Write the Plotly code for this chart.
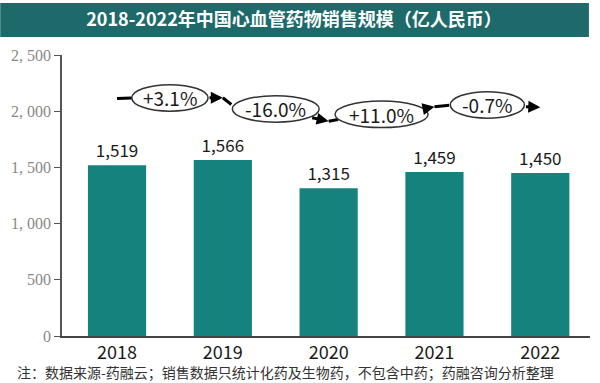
import plotly.graph_objects as go

# ---- data ----
years = ["2018", "2019", "2020", "2021", "2022"]
sales = [1519, 1566, 1315, 1459, 1450]
value_labels = ["1,519", "1,566", "1,315", "1,459", "1,450"]
growth_labels = ["+3.1%", "-16.0%", "+11.0%", "-0.7%"]
y_tickvals = [0, 500, 1000, 1500, 2000, 2500]
y_ticktext = ["0", "500", "1, 000", "1, 500", "2, 000", "2, 500"]

title_text = "2018-2022年中国心血管药物销售规模（亿人民币）"
note_text = "注：数据来源-药融云；销售数据只统计化药及生物药，不包含中药；药融咨询分析整理"

# ---- layout constants for the growth-arrow decoration ----
bubble_y = [2118, 2020, 1972, 2056]      # centre height of each ellipse
bubble_hw = [0.36, 0.41, 0.44, 0.35]     # half width (category units)
bubble_hh = 118                          # half height (value units)
tip_y = [2120, 1910, 2040, 2035]         # arrow tip heights at next bar centre
tail_pts = [(0.86, 2120), (1.83, 1945), (2.92, 2025), (3.85, 2040)]
link_pts = [(1.08, 2060), (2.09, 1927), (3.14, 2052)]

SANS = "Noto Sans CJK SC, Noto Sans, sans-serif"
BAR = "#15827D"
HEAD = "#1E6A6B"

fig = go.Figure()
fig.add_trace(go.Bar(
    x=years, y=sales, width=0.55,
    marker=dict(color=BAR, line=dict(width=0)),
    text=value_labels, textposition="outside",
    textfont=dict(family=SANS, size=17, color="#1a1a1a"),
    cliponaxis=False, hoverinfo="skip",
))

shapes = []
annotations = []

# title bar
shapes.append(dict(type="rect", xref="paper", yref="paper",
                   x0=-0.117, x1=0.998, y0=1.064, y1=1.185,
                   fillcolor=HEAD, line=dict(width=0), layer="below"))

# first lead-in line
shapes.append(dict(type="line", xref="x", yref="y",
                   x0=0, y0=2112, x1=0.5 - bubble_hw[0], y1=bubble_y[0],
                   line=dict(color="black", width=3)))

for i, lab in enumerate(growth_labels):
    cx = i + 0.5
    cy = bubble_y[i]
    shapes.append(dict(type="circle", xref="x", yref="y",
                       x0=cx - bubble_hw[i], x1=cx + bubble_hw[i],
                       y0=cy - bubble_hh, y1=cy + bubble_hh,
                       line=dict(color="#333333", width=1.5),
                       fillcolor="white"))
    annotations.append(dict(x=cx, y=cy, xref="x", yref="y", text=lab,
                            showarrow=False,
                            font=dict(family=SANS, size=19, color="#1a1a1a")))
    # arrow to next bar centre
    tx, ty = tail_pts[i]
    annotations.append(dict(x=i + 1, y=tip_y[i], ax=tx, ay=ty,
                            xref="x", yref="y", axref="x", ayref="y",
                            text="", showarrow=True, arrowhead=2,
                            arrowsize=0.8, arrowwidth=3, arrowcolor="black"))
    if i < len(link_pts):
        lx, ly = link_pts[i]
        shapes.append(dict(type="line", xref="x", yref="y",
                           x0=i + 1, y0=tip_y[i], x1=lx, y1=ly,
                           line=dict(color="black", width=3)))

# footnote
annotations.append(dict(x=-0.089, y=-0.128, xref="paper", yref="paper",
                        xanchor="left", yanchor="middle", text=note_text,
                        showarrow=False,
                        font=dict(family=SANS, size=14, color="#333333")))

fig.update_layout(
    width=600, height=383,
    margin=dict(l=62, r=10, t=55, b=47),
    paper_bgcolor="white", plot_bgcolor="white",
    showlegend=False,
    title=dict(text="<b>" + title_text + "</b>", x=0.49, xanchor="center",
               y=1 - 20 / 383, yanchor="middle",
               font=dict(family=SANS, size=18, color="white")),
    shapes=shapes, annotations=annotations,
    xaxis=dict(type="category", range=[-0.52, 4.47],
               showline=True, linecolor="#444444", linewidth=1.5,
               ticks="", showgrid=False, zeroline=False,
               tickfont=dict(family=SANS, size=18, color="#1a1a1a")),
    yaxis=dict(range=[0, 2500], tickvals=y_tickvals, ticktext=y_ticktext,
               showline=True, linecolor="#555555", linewidth=1.5,
               ticks="outside", ticklen=6, tickcolor="#555555",
               showgrid=False, zeroline=False,
               tickfont=dict(family="Liberation Serif, DejaVu Serif, serif",
                             size=16, color="#888888")),
)

fig.write_html("out.html",
               config={"displayModeBar": False},
               post_script="document.body.style.margin='0';"
                           "document.body.style.overflow='hidden';")
